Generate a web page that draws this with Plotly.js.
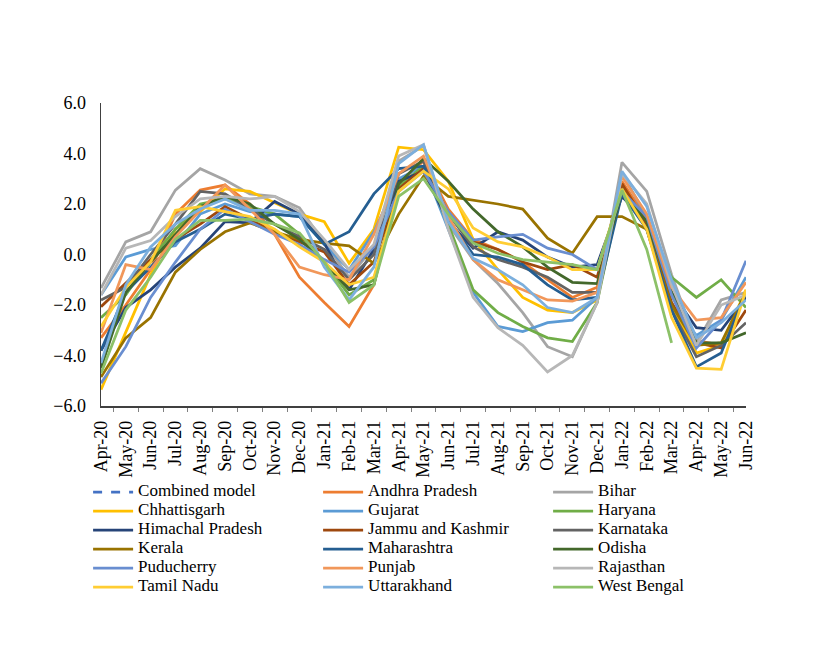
<!DOCTYPE html>
<html>
<head>
<meta charset="utf-8">
<script src="https://cdn.plot.ly/plotly-3.0.1.min.js"></script>
<style>html,body{margin:0;padding:0;background:#fff;}#chart{width:817px;height:654px;}</style>
</head>
<body>
<div id="chart"></div>
<script>
const months = ["Apr-20","May-20","Jun-20","Jul-20","Aug-20","Sep-20","Oct-20","Nov-20","Dec-20","Jan-21","Feb-21","Mar-21","Apr-21","May-21","Jun-21","Jul-21","Aug-21","Sep-21","Oct-21","Nov-21","Dec-21","Jan-22","Feb-22","Mar-22","Apr-22","May-22","Jun-22"];

const combinedModel = [null,null,null,null,null,null,null,null,null,null,null,null,null,null,null,null,null,null,null,null,null,null,null,null,null,null,null];
const andhraPradesh = [-3.3,-2.0,-0.6,1.6,2.55,2.75,2.0,0.8,-0.9,-1.9,-2.85,-1.2,2.8,3.7,1.8,0.6,0.2,-0.3,-1.0,-1.7,-1.3,2.9,1.4,-1.6,-3.4,-3.6,-1.5];
const bihar = [-1.33,0.5,0.9,2.55,3.4,2.95,2.4,2.3,1.85,0.45,-0.9,0.3,3.7,4.3,1.2,-0.2,-1.15,-2.3,-3.65,-4.05,-1.9,3.65,2.5,-0.8,-3.5,-1.8,-1.5];
const chhattisgarh = [-5.35,-3.1,-0.8,1.0,1.7,2.6,2.5,2.05,1.6,1.3,-0.35,1.0,4.25,4.15,2.9,0.6,-0.6,-1.7,-2.2,-2.3,-1.8,2.7,1.2,-2.0,-3.9,-3.6,-1.4];
const gujarat = [-1.6,-0.1,0.2,0.35,1.6,2.0,1.7,1.6,1.5,0.4,-0.6,0.9,3.0,3.5,1.0,-1.5,-2.85,-3.05,-2.7,-2.6,-1.7,3.2,1.5,-2.0,-3.2,-2.6,-0.9];
const haryana = [-2.5,-1.6,-0.2,1.0,2.0,2.2,1.9,1.6,0.8,-0.3,-1.6,-1.0,2.7,3.5,1.2,-1.4,-2.3,-2.85,-3.3,-3.45,-1.9,2.7,1.2,-0.9,-1.7,-1.0,-2.1];
const himachalPradesh = [-3.8,-2.1,-1.4,-0.5,0.25,1.3,1.25,2.1,1.6,0.45,-1.4,0.2,2.9,3.3,1.3,0.25,0.9,0.57,-0.1,-0.5,-0.4,2.3,1.3,-1.5,-2.9,-3.0,-1.7];
const jammuKashmir = [-2.07,-1.15,-0.2,0.6,1.2,1.9,1.4,0.9,0.5,0.1,-1.2,-0.3,2.6,3.4,1.6,0.5,0.2,-0.3,-0.6,-0.4,-0.9,2.8,1.2,-1.9,-3.5,-3.7,-2.2];
const karnataka = [-1.8,-1.3,0.0,1.2,2.5,2.4,1.8,1.2,0.7,0.2,-1.0,0.0,3.2,3.7,1.6,0.3,-0.2,-0.5,-0.9,-1.5,-1.5,2.6,1.0,-2.2,-4.05,-3.6,-2.7];
const kerala = [-4.85,-3.3,-2.5,-0.7,0.2,0.9,1.25,0.9,0.6,0.45,0.34,-0.35,1.6,3.1,2.3,2.15,2.0,1.8,0.65,0.05,1.5,1.5,1.0,-2.0,-3.6,-3.5,-1.5];
const maharashtra = [-3.8,-1.5,-0.5,0.5,1.0,1.6,1.4,1.6,1.5,0.4,0.9,2.4,3.4,3.5,1.4,0.0,-0.1,-0.4,-1.2,-1.8,-1.7,2.4,1.0,-2.2,-4.45,-3.9,-1.5];
const odisha = [-4.5,-1.5,-0.3,0.8,1.9,2.3,2.0,1.2,0.6,-0.3,-1.4,-1.2,2.8,3.8,2.9,1.8,0.9,0.3,-0.5,-1.1,-1.15,2.5,1.3,-1.5,-3.5,-3.5,-3.1];
const puducherry = [-5.1,-3.65,-1.7,-0.3,1.0,1.8,1.3,0.8,0.4,-0.2,-0.7,0.3,2.5,3.3,1.7,0.57,0.7,0.8,0.25,0.0,-0.6,2.5,1.5,-1.6,-3.7,-2.6,-0.25];
const punjab = [-3.1,-0.4,-0.6,0.7,1.75,2.75,1.8,0.8,-0.5,-0.8,-1.0,0.8,3.2,3.9,1.5,-0.2,-1.0,-1.4,-1.8,-1.85,-1.5,3.1,1.6,-1.3,-2.6,-2.5,-1.1];
const rajasthan = [-1.6,0.25,0.55,1.5,2.2,2.3,2.2,2.3,1.7,0.6,-0.6,0.4,3.9,4.35,1.0,-1.7,-2.9,-3.6,-4.65,-4.0,-1.9,3.2,2.0,-1.2,-3.6,-2.0,-1.6];
const tamilNadu = [-2.85,-1.3,-0.3,1.75,1.9,1.7,1.5,1.0,0.3,-0.3,-1.2,-0.9,2.5,3.3,2.6,1.05,0.5,0.3,-0.1,-0.6,-0.6,2.6,1.0,-2.5,-4.5,-4.55,-1.4];
const uttarakhand = [-4.3,-1.2,0.3,1.2,1.8,2.2,1.75,1.75,1.6,-0.5,-1.8,-0.5,3.6,4.35,1.3,-0.15,-0.6,-1.2,-2.1,-2.3,-1.7,3.3,1.9,-1.0,-3.3,-2.7,-1.8];
const westBengal = [-4.7,-2.2,-0.9,0.6,1.35,1.35,1.4,1.2,0.85,-0.3,-1.9,-1.2,2.3,3.0,1.6,0.45,0.05,-0.2,-0.3,-0.4,-0.6,2.55,0.2,-3.5,null,null,null];

const seriesNames = ["Combined model","Andhra Pradesh","Bihar","Chhattisgarh","Gujarat","Haryana","Himachal Pradesh","Jammu and Kashmir","Karnataka","Kerala","Maharashtra","Odisha","Puducherry","Punjab","Rajasthan","Tamil Nadu","Uttarakhand","West Bengal"];
const seriesValues = [combinedModel,andhraPradesh,bihar,chhattisgarh,gujarat,haryana,himachalPradesh,jammuKashmir,karnataka,kerala,maharashtra,odisha,puducherry,punjab,rajasthan,tamilNadu,uttarakhand,westBengal];
const seriesColors = ["#4472C4","#ED7D31","#A5A5A5","#FFC000","#5B9BD5","#70AD47","#264478","#9E480E","#636363","#997300","#255E91","#43682B","#698ED0","#F1975A","#B7B7B7","#FFCD33","#7CAFDD","#8CC168"];

const FAMILY = 'Liberation Serif';
const traces = seriesNames.map((n,i)=>({
  type:'scatter', mode:'lines',
  name:'<span style="font-size:17px">' + n + '</span>',
  x:months, y:seriesValues[i],
  line:{color:seriesColors[i], width:2.75, dash: i===0 ? 'dash' : 'solid'},
  connectgaps:false, hoverinfo:'skip'
}));

const tickFont = {family:FAMILY, size:18, color:'#000'};
const layout = {
  width:817, height:654,
  margin:{l:101, r:71, t:103, b:248, autoexpand:false},
  paper_bgcolor:'#fff', plot_bgcolor:'#fff',
  font:{family:FAMILY, size:17, color:'#000'},
  showlegend:true,
  xaxis:{type:'category', showgrid:false, showline:true, linecolor:'#404040', linewidth:1.5,
    ticks:'outside', tickson:'boundaries', ticklen:4, tickcolor:'#808080', tickangle:-90,
    ticklabelstandoff:6, tickfont:tickFont, zeroline:false, fixedrange:true, automargin:false},
  yaxis:{range:[-6,6], dtick:2, tick0:-6, tickformat:'.1f', showgrid:false, showline:true,
    linecolor:'#404040', linewidth:1.5, ticks:'', ticklabelstandoff:10, tickfont:tickFont,
    zeroline:false, fixedrange:true, automargin:false},
  legend:{orientation:'h', x:-0.02, xanchor:'left', y:-0.236, yanchor:'top',
    entrywidth:175, entrywidthmode:'pixels',
    font:{family:FAMILY, size:11, color:'#000'}, traceorder:'normal',
    bgcolor:'rgba(0,0,0,0)', itemwidth:40, tracegroupgap:0}
};
Plotly.newPlot('chart', traces, layout, {staticPlot:true, displayModeBar:false});
</script>
</body>
</html>
